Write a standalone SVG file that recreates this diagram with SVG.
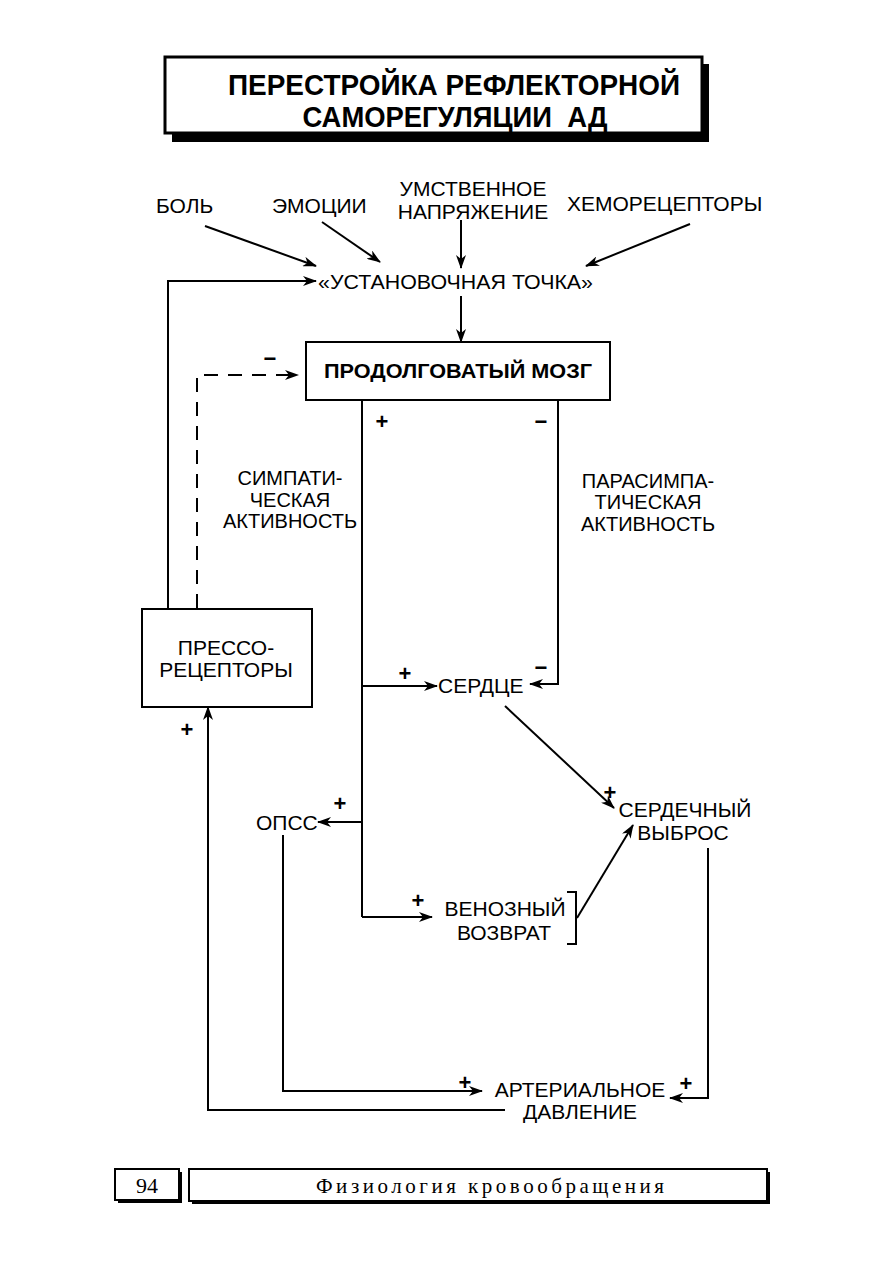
<svg xmlns="http://www.w3.org/2000/svg" width="893" height="1263" viewBox="0 0 893 1263">
<style>
.t{font-family:"Liberation Sans",Arial,sans-serif;font-size:21px;fill:#000}
.b{font-weight:bold}
.h{font-size:29px}
.m{font-size:20px}
.s{font-family:"Liberation Serif","Times New Roman",serif;fill:#000}
.ln{fill:none;stroke:#000;stroke-width:2}
.ar{fill:none;stroke:#000;stroke-width:2;marker-end:url(#ah)}
.da{fill:none;stroke:#000;stroke-width:2;stroke-dasharray:14 10;marker-end:url(#ah)}
.sg{font-family:"Liberation Sans",Arial,sans-serif;font-size:22px;font-weight:bold;fill:#000}
</style>
<defs>
<marker id="ah" markerWidth="14" markerHeight="10" refX="13" refY="5" orient="auto" markerUnits="userSpaceOnUse">
<path d="M0,0 L14,5 L0,10 L4,5 z" fill="#000"/>
</marker>
</defs>
<rect width="893" height="1263" fill="#fff"/>

<g id="title">
<rect x="172" y="64" width="537" height="78" fill="#000"/>
<rect x="165" y="57" width="537" height="76" fill="#fff" stroke="#000" stroke-width="3"/>
<text class="t b h" x="454" y="95" text-anchor="middle" textLength="452" lengthAdjust="spacingAndGlyphs">ПЕРЕСТРОЙКА РЕФЛЕКТОРНОЙ</text>
<text class="t b h" x="455" y="127" text-anchor="middle" textLength="305" lengthAdjust="spacingAndGlyphs" xml:space="preserve">САМОРЕГУЛЯЦИИ  АД</text>
</g>

<g id="connectors">
<line class="ar" x1="205" y1="226" x2="316" y2="266"/>
<line class="ar" x1="322" y1="222" x2="380" y2="262"/>
<line class="ar" x1="461" y1="220" x2="461" y2="268"/>
<line class="ar" x1="690" y1="224" x2="586" y2="266"/>
<polyline class="ar" points="168,608 168,281 316,281"/>
<line class="ar" x1="461" y1="296" x2="461" y2="342"/>
<polyline class="da" points="197,608 197,375 298,375"/>
<polyline class="ln" points="362,400 362,917"/>
<polyline class="ar" points="558,400 558,684 530,684"/>
<line class="ar" x1="362" y1="686" x2="437" y2="686"/>
<line class="ar" x1="362" y1="822" x2="318" y2="822"/>
<line class="ar" x1="362" y1="917" x2="432" y2="917"/>
<line class="ar" x1="505" y1="706" x2="614" y2="808"/>
<polyline class="ln" points="567,892 576,892 576,944 567,944"/>
<line class="ar" x1="577" y1="918" x2="633" y2="825"/>
<polyline class="ar" points="283,835 283,1091 482,1091"/>
<polyline class="ar" points="708,848 708,1098 670,1098"/>
<polyline class="ar" points="505,1110 208,1110 208,707"/>
</g>

<g id="bol"><text class="t" x="156" y="213">БОЛЬ</text></g>
<g id="emocii"><text class="t" x="272" y="213">ЭМОЦИИ</text></g>
<g id="umstv"><text class="t" x="473" y="196" text-anchor="middle">УМСТВЕННОЕ</text><text class="t" x="473" y="219" text-anchor="middle">НАПРЯЖЕНИЕ</text></g>
<g id="hemo"><text class="t" x="567" y="211">ХЕМОРЕЦЕПТОРЫ</text></g>
<g id="ustanov"><text class="t" x="318" y="289" textLength="275" lengthAdjust="spacingAndGlyphs">«УСТАНОВОЧНАЯ ТОЧКА»</text></g>

<g id="mozg">
<rect x="306" y="342" width="304" height="58" fill="#fff" stroke="#000" stroke-width="2"/>
<text class="t b" x="458" y="378" text-anchor="middle" textLength="268" lengthAdjust="spacingAndGlyphs">ПРОДОЛГОВАТЫЙ МОЗГ</text>
</g>
<text class="sg" x="270" y="366" text-anchor="middle">−</text>
<text class="sg" x="382" y="429" text-anchor="middle">+</text>
<text class="sg" x="541" y="429" text-anchor="middle">−</text>

<g id="simp">
<text class="t m" x="290" y="485" text-anchor="middle">СИМПАТИ-</text>
<text class="t m" x="290" y="507" text-anchor="middle">ЧЕСКАЯ</text>
<text class="t m" x="290" y="528" text-anchor="middle">АКТИВНОСТЬ</text>
</g>
<g id="parasimp">
<text class="t m" x="648" y="488" text-anchor="middle">ПАРАСИМПА-</text>
<text class="t m" x="648" y="509" text-anchor="middle">ТИЧЕСКАЯ</text>
<text class="t m" x="648" y="531" text-anchor="middle">АКТИВНОСТЬ</text>
</g>

<g id="presso">
<rect x="142" y="609" width="170" height="98" fill="#fff" stroke="#000" stroke-width="2"/>
<text class="t" x="226" y="655" text-anchor="middle">ПРЕССО-</text>
<text class="t" x="226" y="677" text-anchor="middle">РЕЦЕПТОРЫ</text>
</g>
<text class="sg" x="187" y="737" text-anchor="middle">+</text>

<g id="serdce"><text class="t" x="438" y="693">СЕРДЦЕ</text></g>
<text class="sg" x="405" y="681" text-anchor="middle">+</text>
<text class="sg" x="541" y="675" text-anchor="middle">−</text>

<g id="vybros">
<text class="t" x="685" y="817" text-anchor="middle">СЕРДЕЧНЫЙ</text>
<text class="t" x="683" y="840" text-anchor="middle">ВЫБРОС</text>
</g>
<text class="sg" x="610" y="800" text-anchor="middle">+</text>

<g id="opss"><text class="t" x="256" y="830">ОПСС</text></g>
<text class="sg" x="340" y="811" text-anchor="middle">+</text>

<g id="venoz">
<text class="t" x="505" y="916" text-anchor="middle">ВЕНОЗНЫЙ</text>
<text class="t" x="504" y="940" text-anchor="middle">ВОЗВРАТ</text>
</g>
<text class="sg" x="418" y="908" text-anchor="middle">+</text>

<g id="arter">
<text class="t" x="580" y="1097" text-anchor="middle">АРТЕРИАЛЬНОЕ</text>
<text class="t" x="580" y="1119" text-anchor="middle">ДАВЛЕНИЕ</text>
</g>
<text class="sg" x="465" y="1090" text-anchor="middle">+</text>
<text class="sg" x="686" y="1091" text-anchor="middle">+</text>

<g id="footer">
<rect x="118" y="1172" width="64" height="31" fill="#000"/>
<rect x="115" y="1169" width="64" height="31" fill="#fff" stroke="#000" stroke-width="2"/>
<text class="s" x="147" y="1193" font-size="22" text-anchor="middle">94</text>
<rect x="192" y="1172" width="578" height="32" fill="#000"/>
<rect x="189" y="1169" width="578" height="32" fill="#fff" stroke="#000" stroke-width="2"/>
<text class="s" x="490" y="1193" font-size="21" text-anchor="middle" textLength="348" lengthAdjust="spacing">Физиология кровообращения</text>
</g>
</svg>
